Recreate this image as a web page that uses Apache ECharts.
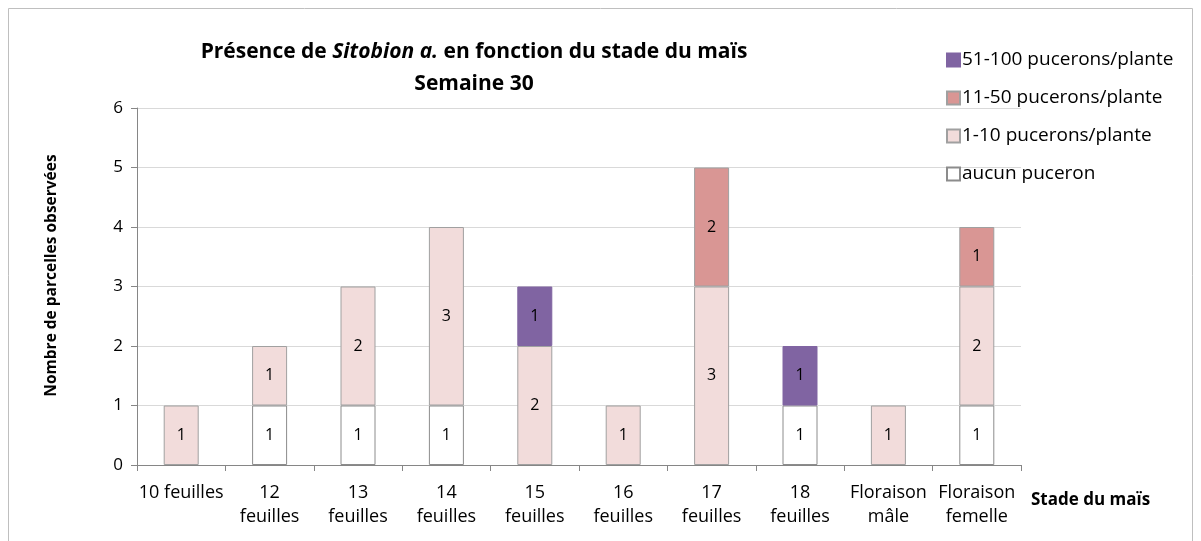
<!DOCTYPE html>
<html>
<head>
<meta charset="utf-8">
<script src="https://cdn.jsdelivr.net/npm/echarts@6/dist/echarts.min.js"></script>
<style>
  html, body { margin: 0; padding: 0; background: #fff; }
  #chart { width: 1201px; height: 541px; }
</style>
</head>
<body>
<div id="chart"></div>
<script>
const stades = ['10 feuilles', '12\nfeuilles', '13\nfeuilles', '14\nfeuilles', '15\nfeuilles',
    '16\nfeuilles', '17\nfeuilles', '18\nfeuilles', 'Floraison\nmâle', 'Floraison\nfemelle'];

const aucun = [0, 1, 1, 1, 0, 0, 0, 1, 0, 1];
const un_dix = [1, 1, 2, 3, 2, 1, 3, 0, 1, 2];
const onze_cinquante = [0, 0, 0, 0, 0, 0, 2, 0, 0, 1];
const cinquante_cent = [0, 0, 0, 0, 1, 0, 0, 1, 0, 0];

const FONT = '"Open Sans", "Noto Sans", sans-serif';

const chart = echarts.init(document.getElementById('chart'));

const segLabel = {
    show: true,
    position: 'inside',
    color: '#000',
    fontFamily: FONT,
    fontSize: 16,
    formatter: p => p.value > 0 ? p.value : ''
};

function serie(name, data, color, border) {
    return {
        name: name,
        type: 'bar',
        stack: 'total',
        // pas de segment vide
        data: data.map(v => v > 0 ? v : null),
        barWidth: 35,
        itemStyle: {color: color, borderColor: border, borderWidth: 1},
        label: segLabel,
        emphasis: {disabled: true}
    };
}

chart.setOption({
    animation: false,
    title: {
        text: 'Présence de {i|Sitobion a.} en fonction du stade du maïs\nSemaine 30',
        left: 469,
        top: 31,
        textAlign: 'center',
        textStyle: {
            fontFamily: FONT,
            fontSize: 21,
            fontWeight: 'bold',
            color: '#000',
            lineHeight: 32,
            rich: {
                i: {fontFamily: FONT, fontSize: 21, fontWeight: 'bold', fontStyle: 'italic', color: '#000'}
            }
        }
    },
    legend: {
        orient: 'vertical',
        left: 941,
        top: 44,
        itemWidth: 13,
        itemHeight: 13,
        itemGap: 16,
        icon: 'rect',
        data: ['51-100 pucerons/plante', '11-50 pucerons/plante', '1-10 pucerons/plante', 'aucun puceron'],
        textStyle: {fontFamily: FONT, fontSize: 19, color: '#000', lineHeight: 22, padding: [0, 0, 0, -3]}
    },
    grid: {left: 137, right: 180, top: 108, bottom: 76},
    xAxis: {
        type: 'category',
        data: stades,
        name: 'Stade du maïs',
        nameLocation: 'end',
        nameGap: 10,
        nameTextStyle: {fontFamily: FONT, fontSize: 17, fontWeight: 'bold', color: '#000',
            verticalAlign: 'top', padding: [27, 0, 0, 0]},
        axisLine: {lineStyle: {color: '#868686'}},
        axisTick: {show: true, interval: 0, length: 6, lineStyle: {color: '#868686'}},
        axisLabel: {interval: 0, fontFamily: FONT, fontSize: 18, color: '#000', lineHeight: 24, margin: 16}
    },
    yAxis: {
        type: 'value',
        min: 0,
        max: 6,
        interval: 1,
        name: 'Nombre de parcelles observées',
        nameLocation: 'middle',
        nameGap: 77,
        nameTextStyle: {fontFamily: FONT, fontSize: 15.5, fontWeight: 'bold', color: '#000',
            padding: [0, 0, 0, 22]},
        axisLine: {show: true, lineStyle: {color: '#868686'}},
        axisTick: {show: true, length: 6, lineStyle: {color: '#868686'}},
        axisLabel: {fontFamily: FONT, fontSize: 17, color: '#000', margin: 14},
        splitLine: {lineStyle: {color: '#D9D9D9'}}
    },
    graphic: [{
        type: 'rect',
        shape: {x: 8.5, y: 8.5, width: 1184, height: 600},
        style: {fill: 'none', stroke: '#BFBFBF', lineWidth: 1},
        silent: true
    }],
    series: [
        serie('aucun puceron', aucun, '#FFFFFF', '#8C8C8C'),
        serie('1-10 pucerons/plante', un_dix, '#F2DCDB', '#A0A0A0'),
        serie('11-50 pucerons/plante', onze_cinquante, '#D99694', '#A0A0A0'),
        serie('51-100 pucerons/plante', cinquante_cent, '#8064A2', '#8064A2')
    ]
});
</script>
</body>
</html>
